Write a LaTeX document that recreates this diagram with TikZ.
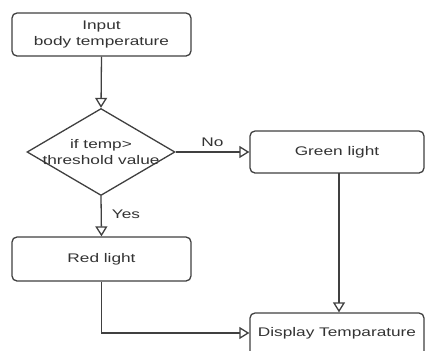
\documentclass[tikz,border=0pt]{standalone}
\usepackage{fontspec}
\setmainfont{Liberation Sans}[FakeStretch=1.38]
\usetikzlibrary{arrows.meta,shapes.geometric}
\definecolor{ln}{HTML}{404040}
\definecolor{tx}{HTML}{333333}
\tikzset{
  box/.style={draw=ln, line width=1.3bp, rounded corners=5bp, fill=white},
  lbl/.style={text=tx, font=\fontsize{12.5bp}{16bp}\selectfont, align=center, inner sep=0},
  conn/.style={draw=ln, line width=1.3bp, -{Triangle[open, length=10bp, width=12bp]}},
}
\begin{document}
\begin{tikzpicture}[x=1bp, y=-1bp]
\useasboundingbox (0,0) rectangle (425,351);
\clip (0,0) rectangle (425,351);
% boxes
\node[box, minimum width=179bp, minimum height=43bp] (in) at (101.5,34.5) {};
\node[lbl] at (in.center) {Input\\body temperature};
\node[diamond, draw=ln, line width=1.3bp, fill=white, minimum width=148bp, minimum height=87bp, inner sep=0] (dec) at (101,152) {};
\node[lbl] at (dec.center) {if temp>\\threshold value};
\node[box, minimum width=174bp, minimum height=42bp] (gr) at (337,152) {};
\node[lbl] at (gr.center) {Green light};
\node[box, minimum width=179bp, minimum height=44bp] (red) at (101.5,259) {};
\node[lbl] at (red.center) {Red light};
\node[box, minimum width=174bp, minimum height=60bp] (disp) at (337,343) {};
\node[lbl] at (337,333) {Display Temparature};
% connectors
\draw[conn] (in.south) -- (dec.north);
\draw[conn] (dec.east) -- node[lbl, above=5bp, pos=0.5] {No} (gr.west);
\draw[conn] (dec.south) -- node[lbl, right=10bp, pos=0.45] {Yes} (red.north);
\coordinate (gx) at (339,173);
\draw[conn] (gx) -- (gx |- disp.north);
\coordinate (dl) at (disp.west |- 0,333);
\draw[conn] (red.south) |- (dl);
\end{tikzpicture}
\end{document}
